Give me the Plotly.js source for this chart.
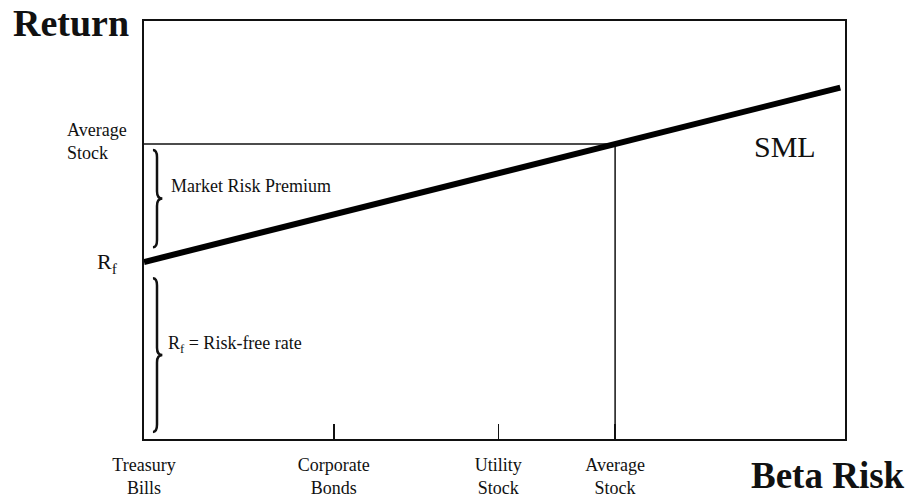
<!DOCTYPE html>
<html>
<head>
<meta charset="utf-8">
<script src="https://cdn.plot.ly/plotly-3.0.1.min.js"></script>
<style>html,body{margin:0;padding:0;background:#fff;}#chart{width:911px;height:498px;}</style>
</head>
<body>
<div id="chart"></div>
<script>
// Data
var assetNames = ["Treasury<br>Bills", "Corporate<br>Bonds", "Utility<br>Stock", "Average<br>Stock"];
var assetBetas = [0, 0.403, 0.752, 1.0];
var riskFree = 6;          // R_f
var marketReturn = 10;     // average stock return
var smlBetaEnd = 1.478;    // where the drawn SML stops
var xMax = 1.488;
var yMax = 14.17;

var slope = marketReturn - riskFree;
var smlX = [0, smlBetaEnd];
var smlY = [riskFree, riskFree + slope * smlBetaEnd];

var serif = "Liberation Serif, Times New Roman, serif";

function bracePath(x0, xs, xt, yTop, yBot, d) {
  var ym = (yTop + yBot) / 2;
  return "M " + x0 + "," + yTop +
    " Q " + xs + "," + yTop + " " + xs + "," + (yTop - d) +
    " L " + xs + "," + (ym + d) +
    " Q " + xs + "," + ym + " " + xt + "," + ym +
    " Q " + xs + "," + ym + " " + xs + "," + (ym - d) +
    " L " + xs + "," + (yBot + d) +
    " Q " + xs + "," + yBot + " " + x0 + "," + yBot;
}

var traces = [
  { // horizontal guide at market return
    x: [0, 1], y: [marketReturn, marketReturn], mode: "lines",
    line: { color: "#111", width: 1.5 }, hoverinfo: "skip"
  },
  { // vertical guide at beta = 1
    x: [1, 1], y: [0, marketReturn], mode: "lines",
    line: { color: "#111", width: 1.5 }, hoverinfo: "skip"
  },
  { // SML
    x: smlX, y: smlY, mode: "lines",
    line: { color: "#000", width: 6 }, hoverinfo: "skip"
  }
];

var bx0 = 0.019, bxs = 0.0276, bxt = 0.039;

var layout = {
  width: 911, height: 498,
  margin: { l: 144, r: 66, t: 21, b: 59 },
  paper_bgcolor: "#fff", plot_bgcolor: "#fff",
  showlegend: false,
  xaxis: {
    range: [0, xMax], showgrid: false, zeroline: false,
    showline: true, mirror: true, linecolor: "#111", linewidth: 2,
    tickvals: assetBetas, ticktext: assetNames,
    ticks: "inside", ticklen: 15, tickwidth: 1.5, tickcolor: "#111",
    tickfont: { family: serif, size: 18, color: "#111" },
    ticklabelstandoff: 8
  },
  yaxis: {
    range: [0, yMax], showgrid: false, zeroline: false,
    showline: true, mirror: true, linecolor: "#111", linewidth: 2,
    showticklabels: false, ticks: ""
  },
  shapes: [
    { type: "path", xref: "x", yref: "y",
      path: bracePath(bx0, bxs, bxt, marketReturn - 0.2, riskFree + 0.5, 0.25),
      line: { color: "#111", width: 2.5 } },
    { type: "path", xref: "x", yref: "y",
      path: bracePath(bx0, bxs, bxt, riskFree - 0.55, 0.24, 0.25),
      line: { color: "#111", width: 2.5 } }
  ],
  annotations: [
    { text: "<b>Return</b>", xref: "paper", yref: "paper", x: -0.19, y: 1.05,
      xanchor: "left", yanchor: "top", showarrow: false,
      font: { family: serif, size: 38, color: "#111" } },
    { text: "<b>Beta Risk</b>", xref: "paper", yref: "paper", x: 1.088, y: -0.141,
      xanchor: "right", yanchor: "bottom", showarrow: false,
      font: { family: serif, size: 37, color: "#111" } },
    { text: "Average<br>Stock", xref: "paper", yref: "y", x: -0.113, y: marketReturn + 0.1,
      xanchor: "left", yanchor: "middle", align: "left", showarrow: false,
      font: { family: serif, size: 18, color: "#111" } },
    { text: "R<sub>f</sub>", xref: "paper", yref: "y", x: -0.07, y: riskFree - 0.05,
      xanchor: "left", yanchor: "middle", showarrow: false,
      font: { family: serif, size: 22, color: "#111" } },
    { text: "Market Risk Premium", xref: "x", yref: "y", x: 0.052, y: (marketReturn + riskFree) / 2 + 0.57,
      xanchor: "left", yanchor: "middle", showarrow: false,
      font: { family: serif, size: 18, color: "#111" } },
    { text: "R<sub>f</sub> = Risk-free rate", xref: "x", yref: "y", x: 0.047, y: riskFree / 2 + 0.2,
      xanchor: "left", yanchor: "middle", showarrow: false,
      font: { family: serif, size: 18, color: "#111" } },
    { text: "SML", xref: "x", yref: "y", x: 1.29, y: marketReturn - 0.1,
      xanchor: "left", yanchor: "middle", showarrow: false,
      font: { family: serif, size: 30, color: "#111" } }
  ]
};

Plotly.newPlot("chart", traces, layout, { staticPlot: true, displayModeBar: false });
</script>
</body>
</html>
